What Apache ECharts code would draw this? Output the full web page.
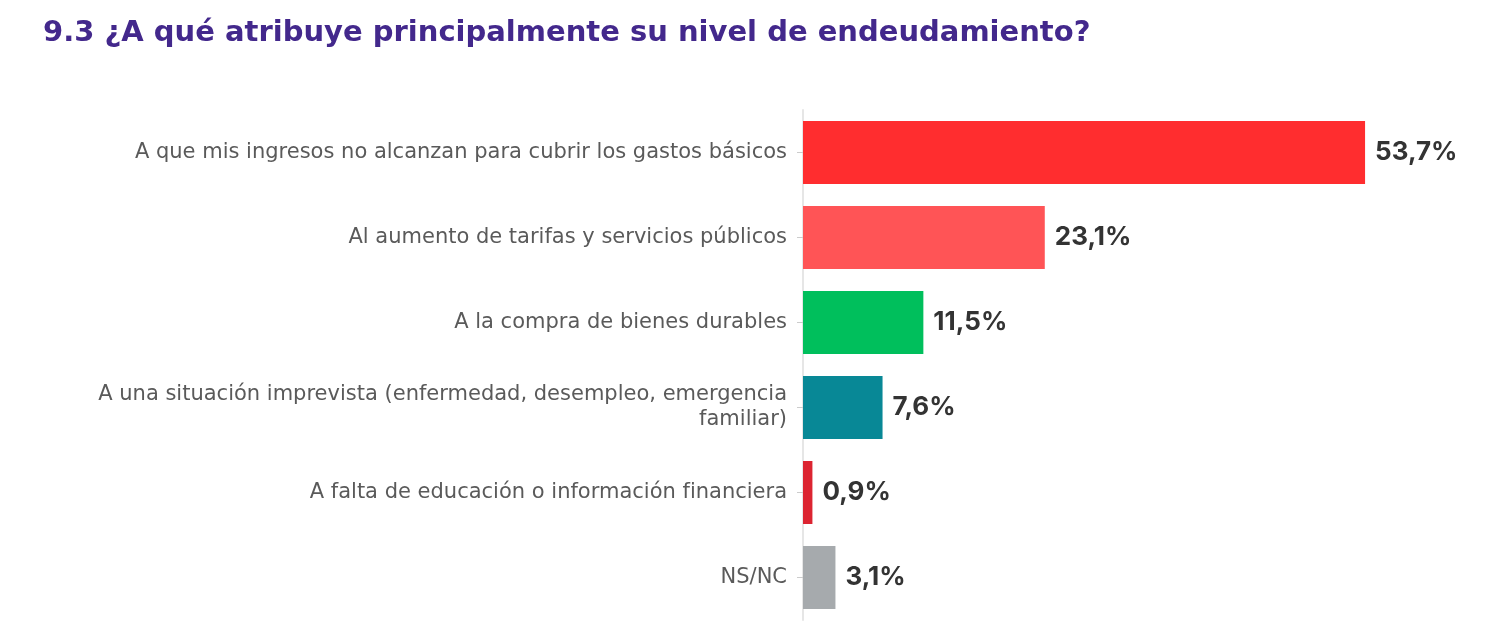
<!DOCTYPE html>
<html lang="es">
<head>
    <meta charset="UTF-8">
    <title>Endeudamiento</title>
    <script src="https://cdn.jsdelivr.net/npm/echarts@6/dist/echarts.min.js"></script>
    <style>
        body { margin: 0; background: #fff; }
        #main { width: 1495px; height: 638px; }
    </style>
</head>
<body>
<div id="main"></div>
<script type="text/javascript">
    // datos del gráfico
    var categories = [
        'A que mis ingresos no alcanzan para cubrir los gastos básicos',
        'Al aumento de tarifas y servicios públicos',
        'A la compra de bienes durables',
        'A una situación imprevista (enfermedad, desempleo, emergencia\nfamiliar)',
        'A falta de educación o información financiera',
        'NS/NC'
    ];
    var values = [53.7, 23.1, 11.5, 7.6, 0.9, 3.1];
    var colors = ['#ff2d2f', '#ff5456', '#00bf5c', '#088896', '#dc2431', '#a6aaad'];

    var myChart = echarts.init(document.getElementById('main'));

    var option = {
        title: {
            text: '9.3 ¿A qué atribuye principalmente su nivel de endeudamiento?',
            left: 38,
            top: 14,
            textStyle: {
                color: '#43288c',
                fontSize: 29,
                fontWeight: 'bold',
                fontFamily: 'DejaVu Sans'
            }
        },
        grid: { left: 803, right: 64, top: 110, bottom: 18 },
        xAxis: {
            type: 'value',
            min: 0,
            max: 60,
            show: false
        },
        yAxis: {
            type: 'category',
            inverse: true,
            data: categories,
            axisLine: { show: true, lineStyle: { color: '#e6e6e6', width: 2 } },
            axisTick: { show: true, alignWithLabel: true, length: 6, lineStyle: { color: '#cccccc' } },
            axisLabel: {
                color: '#5a5a5a',
                fontSize: 21,
                fontFamily: 'DejaVu Sans',
                align: 'right',
                margin: 16,
                lineHeight: 25
            }
        },
        series: [{
            type: 'bar',
            barWidth: 63,
            data: values.map(function (v, i) {
                return { value: v, itemStyle: { color: colors[i] } };
            }),
            label: {
                show: true,
                position: 'right',
                distance: 10,
                color: '#333333',
                fontSize: 26,
                fontWeight: 'bold',
                fontFamily: 'Inter',
                formatter: function (p) {
                    return p.value.toFixed(1).replace('.', ',') + '%';
                }
            }
        }]
    };

    myChart.setOption(option);
</script>
</body>
</html>
